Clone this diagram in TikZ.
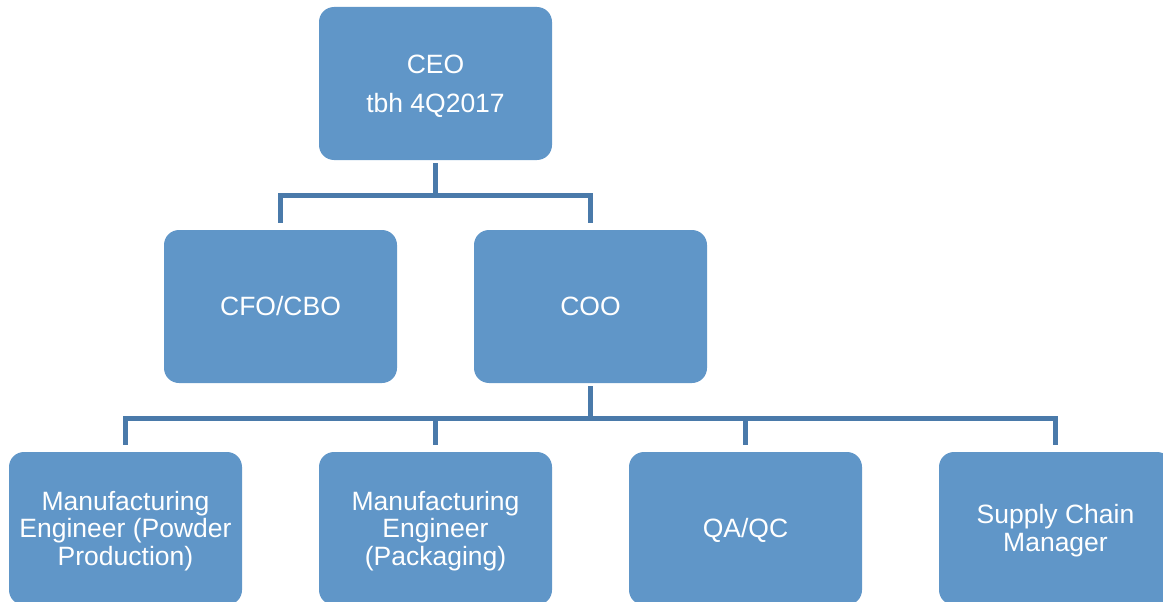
\documentclass[tikz,border=0pt]{standalone}
\usepackage{fontspec}
\setmainfont{Liberation Sans}
\definecolor{boxfill}{RGB}{96,150,200}
\definecolor{linkcol}{RGB}{74,122,170}
% fixed ascent/descent so every text block is centred on its line boxes
\newcommand{\ascstrut}{\rule{0pt}{24pt}}
\newcommand{\descstrut}{\rule[-5.6pt]{0pt}{5.6pt}}
\begin{document}
\begin{tikzpicture}[x=1pt,y=-1pt,
  orgbox/.style={rectangle, rounded corners=15pt, fill=boxfill, draw=none,
    minimum width=233pt, minimum height=153pt, inner sep=0pt,
    text=white, align=center,
    font=\fontsize{26.5}{27.5}\selectfont},
  conn/.style={draw=linkcol, line width=5pt}]
\useasboundingbox (0,0) rectangle (1163,602);
\begin{scope}
\clip (0,0) rectangle (1163,602);
% top level
\node[orgbox] (ceo) at (435.5,83.5) {\ascstrut CEO\\[11.8pt]tbh 4Q2017\descstrut};
% second level
\node[orgbox] (cfo) at (280.5,306.5) {\ascstrut CFO/CBO\descstrut};
\node[orgbox] (coo) at (590.5,306.5) {\ascstrut COO\descstrut};
% third level
\node[orgbox] (mep) at (125.5,528.5) {\ascstrut Manufacturing\\Engineer (Powder\\Production)\descstrut};
\node[orgbox] (mek) at (435.5,528.5) {\ascstrut Manufacturing\\Engineer\\(Packaging)\descstrut};
\node[orgbox] (qa)  at (745.5,528.5) {\ascstrut QA/QC\descstrut};
\node[orgbox] (scm) at (1055.5,528.5) {\ascstrut Supply Chain\\Manager\descstrut};
% connectors
\coordinate (busA) at ([yshift=-35pt]ceo.south);
\draw[conn] ([yshift=-3pt]ceo.south) -- (busA);
\draw[conn] (busA) -| ([yshift=7pt]cfo.north);
\draw[conn] (busA) -| ([yshift=7pt]coo.north);
\coordinate (busB) at ([yshift=-35.5pt]coo.south);
\draw[conn] ([yshift=-3pt]coo.south) -- (busB);
\draw[conn] (busB) -| ([yshift=7pt]mep.north);
\draw[conn] (busB) -| ([yshift=7pt]mek.north);
\draw[conn] (busB) -| ([yshift=7pt]qa.north);
\draw[conn] (busB) -| ([yshift=7pt]scm.north);
\end{scope}
\end{tikzpicture}
\end{document}
